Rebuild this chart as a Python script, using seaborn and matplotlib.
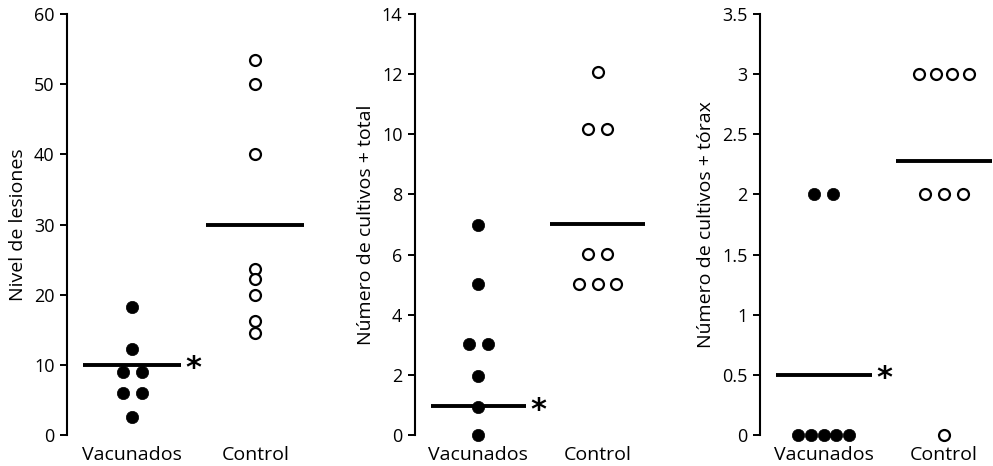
import numpy as np
import pandas as pd
import seaborn as sns
import matplotlib.pyplot as plt

groups = ['Vacunados', 'Control']

# panel 1: nivel de lesiones
les_vac = [18.2, 12.2, 9, 9, 6, 6, 2.5]
les_ctrl = [53.5, 50, 40, 23.7, 22.2, 20, 16.3, 14.5]
les_lines = [10, 30]

# panel 2: cultivos + total
tot_vac = [7, 5.03, 3.03, 3.03, 1.97, 0.94, 0]
tot_ctrl = [12.08, 10.17, 10.17, 6.03, 6.03, 5.03, 5.03, 5.03]
tot_lines = [0.96, 7.03]

# panel 3: cultivos + torax
tor_vac = [2, 2, 0, 0, 0, 0, 0]
tor_ctrl = [3, 3, 3, 3, 2, 2, 2, 0]
tor_lines = [0.5, 2.28]

ylabels = ['Nivel de lesiones', 'Número de cultivos + total', 'Número de cultivos + tórax']
yticks = [np.arange(0, 61, 10), np.arange(0, 15, 2), np.arange(0, 3.6, 0.5)]

sns.set_style('ticks')
plt.rcParams['font.family'] = ['Open Sans', 'DejaVu Sans']
for key in ['text.color', 'axes.labelcolor', 'xtick.color', 'ytick.color', 'axes.edgecolor']:
    plt.rcParams[key] = 'black'


def spread(values, step=0.155, span=0.42):
    # put equal values side by side, centred on the category
    values = np.asarray(values, dtype=float)
    off = np.zeros(len(values))
    for v in np.unique(values):
        idx = np.where(values == v)[0]
        n = len(idx)
        if n > 1:
            d = min(step, span / (n - 1))
            off[idx] = (np.arange(n) - (n - 1) / 2) * d
    return off


def make_df(vac, ctrl):
    rows = []
    for i, (g, vals) in enumerate(zip(groups, [vac, ctrl])):
        off = spread(vals)
        for v, o in zip(vals, off):
            rows.append({'grupo': g, 'valor': v, 'x': i + o})
    return pd.DataFrame(rows)


panels = [
    (les_vac, les_ctrl, les_lines),
    (tot_vac, tot_ctrl, tot_lines),
    (tor_vac, tor_ctrl, tor_lines),
]

fig = plt.figure(figsize=(9.93, 4.66), dpi=100)
rects = [
    [67 / 993, 31 / 466, 237.4 / 993, 421 / 466],
    [415 / 993, 31 / 466, 230.4 / 993, 421 / 466],
    [760 / 993, 31 / 466, 232.2 / 993, 421 / 466],
]

for k, (vac, ctrl, lines) in enumerate(panels):
    ax = fig.add_axes(rects[k])
    df = make_df(vac, ctrl)
    d_v = df[df['grupo'] == 'Vacunados']
    d_c = df[df['grupo'] == 'Control']
    sns.scatterplot(data=d_v, x='x', y='valor', color='black', s=78,
                    edgecolor='black', linewidth=0.5, ax=ax, clip_on=False, zorder=3)
    sns.scatterplot(data=d_c, x='x', y='valor', color='white', s=62,
                    edgecolor='black', linewidth=1.6, ax=ax, clip_on=False, zorder=3)
    for i, m in enumerate(lines):
        ax.hlines(m, i - 0.4, i + 0.4, color='black', linewidth=2.8, zorder=2)
    ax.annotate('*', xy=(0.4, lines[0]), xytext=(3, -9), textcoords='offset points',
                ha='left', va='baseline', fontsize=22, fontweight='bold',
                family='DejaVu Sans', color='black')

    ax.set_xlim(-0.53, 1.4)
    ax.set_ylim(0, yticks[k][-1])
    ax.set_yticks(yticks[k])
    ax.set_yticklabels(['{:g}'.format(t) for t in yticks[k]])
    ax.set_xticks([0, 1])
    ax.set_xticklabels(groups)
    ax.set_xlabel('')
    ax.set_ylabel(ylabels[k], fontsize=14, labelpad=5)
    ax.tick_params(axis='y', length=5, width=1.4, labelsize=13, pad=4)
    ax.tick_params(axis='x', length=0, labelsize=14, pad=8)
    sns.despine(ax=ax, bottom=True)
    ax.spines['left'].set_linewidth(1.5)

fig.savefig('out.png', dpi=100)
